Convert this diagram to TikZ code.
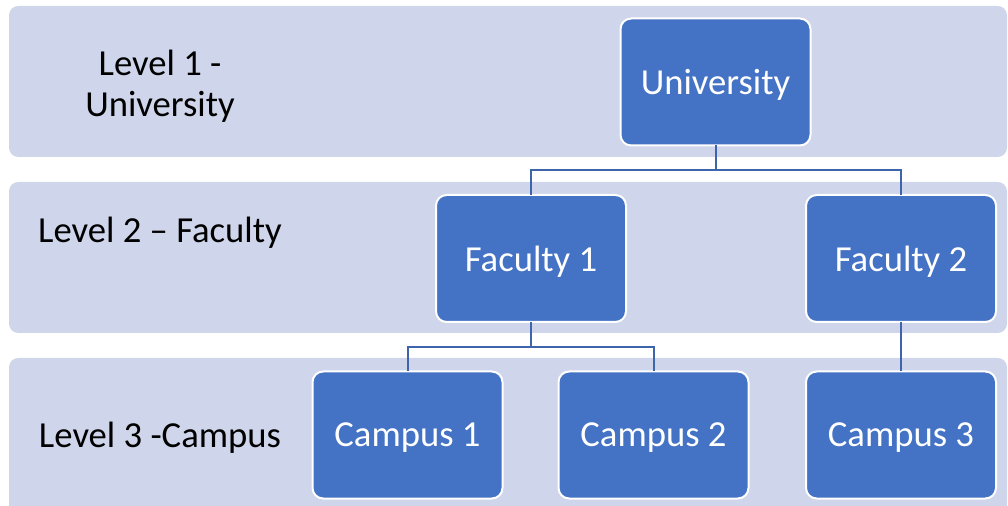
\documentclass[tikz,border=0pt]{standalone}
\usepackage{fontspec}
\setmainfont{Carlito}
\usetikzlibrary{
positioning,
backgrounds
}
\definecolor{bandblue}{HTML}{CFD5EA}
\definecolor{boxblue}{HTML}{4472C4}
\definecolor{lineblue}{HTML}{3E64AC}

\begin{document}
\begin{tikzpicture}
[x=0.75pt, y=-0.75pt,
band/.style ={ rectangle, draw=none, fill=bandblue, rounded corners=7pt, inner sep=0},
block_normal/.style ={ rectangle, draw=white, line width=1.5pt, fill=boxblue, text=white, text centered, text depth=0pt, minimum width=142.5pt, minimum height=95.25pt, rounded corners=8pt, outer sep=0, font=\fontsize{27.5}{30}\selectfont},
block_level/.style ={ rectangle, draw=none, fill=none, text=black, align=center, text depth=0pt, font=\fontsize{27.5}{31}\selectfont},
line_inner/.style ={draw=lineblue, line width=1.5pt}]

\useasboundingbox (0,0) rectangle (1008,506);

%%%Baender%%%
\fill[bandblue, rounded corners=7pt] (9,6) rectangle (1007,157);
\fill[bandblue, rounded corners=7pt] (9,182) rectangle (1007,333);
\fill[bandblue, rounded corners=7pt] (9,358) rectangle (1007,530);

%%%Ebenen%%%
\node [block_level] (lvl1) at (160,83) {Level 1 -\\University};
\node [block_level] (lvl2) at (160,230) {Level 2 -- Faculty};
\node [block_level] (lvl3) at (160,435) {Level 3 -Campus};

%%%Bloecke%%%
\node [block_normal] (uni) at (715.5,82) {University};
\node [block_normal] (fac1) at (531,258.5) {Faculty 1};
\node [block_normal] (fac2) at (901,258.5) {Faculty 2};
\node [block_normal] (cam1) at (407.5,435) {Campus 1};
\node [block_normal] (cam2) at (653.5,435) {Campus 2};
\node [block_normal] (cam3) at (901,435) {Campus 3};

%%Linien%%%
\draw[line_inner] (uni.south) -- ++(0,25) -| (fac1.north);
\draw[line_inner] (uni.south) -- ++(0,25) -| (fac2.north);
\draw[line_inner] (fac1.south) -- ++(0,25) -| (cam1.north);
\draw[line_inner] (fac1.south) -- ++(0,25) -| (cam2.north);
\draw[line_inner] (fac2.south) -- (cam3.north);

\end{tikzpicture}
\end{document}
